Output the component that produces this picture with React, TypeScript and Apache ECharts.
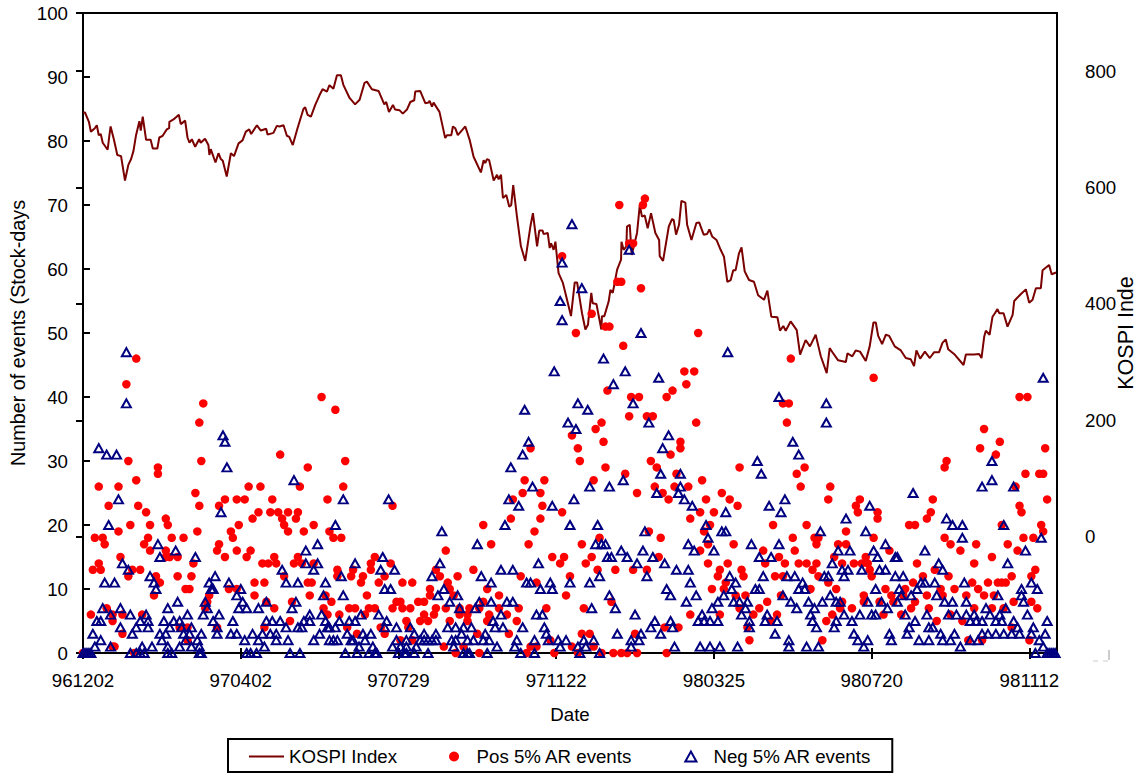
import React, { useEffect, useRef } from "react";
import * as echarts from "echarts";

const dateLabels = ["961202", "970402", "970729", "971122", "980325", "980720", "981112"];

const kospiDays = [0,1,3,4,6,7,8,9,10,12.5,13.4,14,15.7,17.4,19.3,21.3,23,24.4,25.6,26.9,28.6,29.3,30.3,32,34.3,35.4,37.7,38.7,40.4,42.5,43.7,43.8,45.9,48.6,49.6,51.8,53,54,55.2,56.9,58.9,59.7,61.9,63.6,64.1,64.8,67.2,68.7,69.9,70.9,72.9,75,76.6,78.9,80.9,82.6,84.3,85.3,88.2,90.2,92.9,93.6,96.6,98.3,99.7,101.7,103.4,104.6,106.4,108.8,111.8,112.7,113.9,115.6,117.8,120,121.5,123.7,125,127,128.8,130.8,132.1,135.2,138,140.3,142.8,144,146.5,149.9,152.8,153.8,155.2,157.2,158.3,160.5,162.2,164.3,166,168,168.5,171,173.6,175.3,175.8,177,177.8,180.8,183.7,184.6,186.8,187.6,188.8,190.1,193.9,196.1,198.1,201.8,203.2,204,204.9,206,208.3,210,210.8,212,213,214.7,216.2,217.2,218.2,220.1,222.1,224.3,226.9,228.2,230.3,231.4,233.1,233.6,235.7,236.7,237.4,238.7,239.6,241.2,243.4,245.5,247.5,249.4,250.6,253.1,254.8,256.1,257.8,258.5,260.4,262.9,263.2,264.4,266.6,267.5,268.7,270.9,272.9,273.1,274.2,275.6,275.9,277.3,278.3,281,282.4,283.5,284.9,286.4,288.1,290.3,292.2,292.5,294.2,297.1,298.8,299.6,300.8,302.3,303.5,305.5,306.4,308.6,311.1,312.5,314.8,316.5,317.7,319.1,321.3,323.4,325.1,326.8,328.5,329.8,331,332.7,334,335.6,337.8,340.3,342.4,345.4,347.1,349.1,352.2,353.5,355.2,356.4,358.9,362,363.7,366.5,368.7,371.6,373,374.2,377.2,378.7,380.1,383,386.9,387.7,390.2,391.9,394.1,397,399,400.9,402.1,403.3,405.3,407.2,408.9,411.7,414.8,417.3,419.8,421.5,422.7,424.6,427,429.5,431.7,434.2,435.9,437.6,438.8,441.8,446.6,447.8,452,454.5,455.7,457.1,457.9,459.8,461.3,462.5,463.8,464.7,466.9,468.9,471.5,472.3,475.7,478.2,479.9,481.6,483.3,485.8,486.7,490,491.3,493.5];
const kospiValues = [729,729,713,696,702,707,690,692,677,665,690,705,682,656,654,612,639,649,663,690,714,698,722,682,682,667,667,686,689,700,702,713,717,725,709,715,686,677,683,670,683,677,684,673,656,666,643,659,649,646,619,659,654,676,681,696,700,692,707,698,701,691,694,706,705,707,689,687,673,702,735,738,725,722,742,759,769,765,776,770,793,793,776,754,743,751,780,782,769,766,743,747,730,742,734,733,727,734,747,750,765,766,745,746,749,739,746,730,685,690,690,705,702,690,705,682,653,626,647,642,649,647,612,622,614,622,582,587,567,570,604,550,499,474,533,556,499,526,526,520,522,496,504,493,507,453,436,407,379,437,437,384,356,364,419,401,400,356,379,379,404,424,419,459,476,507,493,499,533,536,484,522,570,550,552,530,556,522,510,482,474,533,546,544,519,536,577,574,536,510,539,540,519,520,528,516,510,493,481,438,441,458,458,487,497,456,441,438,415,407,423,378,377,354,362,354,370,355,313,338,327,347,327,310,281,324,317,303,300,315,310,320,318,302,327,368,368,345,331,347,345,327,320,307,305,293,320,306,318,307,317,317,333,339,322,314,295,313,313,314,307,344,354,347,378,384,391,384,384,361,381,405,417,425,402,407,427,427,458,467,451,454];

const posRows: [number, number[]][] = [
  [71,[285]],[70,[272,284]],[64,[277,279]],[62,[243]],[58,[271,273]],[57,[283]],[53,[258]],[51,[265,267]],[50,[250,312]],[48,[274]],
  [46,[27,359]],[44,[305,310]],[43,[401]],[42,[22,306]],[41,[299,266]],[40,[121,296,278,282,475,479]],[39,[61,355,358]],[38,[128]],[37,[277,286,289]],[36,[59,357,311,263]],
  [35,[260,457]],[34,[248]],[33,[264,303,465]],[32,[227,251,303,455,488]],[31,[100,298,463]],[30,[23,60,133,252,288,438]],[29,[38,114,265,291,333,437,366]],[28,[38,275,301,362,478,485,487]],
  [27,[27,224,234,259,314]],[26,[8,18,84,90,110,132,290,300,307,379,364,473]],[25,[57,223,232,281,324,294]],[24,[72,78,82,96,124,218,297,316,328,378,394,431,489]],
  [23,[13,28,59,69,157,233,332,392,475]],[22,[32,89,95,99,104,109,243,313,320,393,430,403,476]],[21,[42,86,101,108,217,232,308,428,403]],[20,[24,34,43,79,102,117,203,350,318,419,422,466,486,367]],
  [19,[18,58,75,104,112,125,229,287,315,387,487]],[18,[6,10,33,45,51,76,127,131,262,293,360,401,437,477,482,371,373]],[17,[11,31,69,207,226,253,330,317,372,383,387,440,453,469]],
  [16,[34,42,68,78,85,184,313,345,361,445,474,409]],[15,[19,42,44,48,72,83,97,109,148,238,244,258,292,353,397,381,461]],[14,[8,56,91,94,98,107,111,117,146,156,242,255,317,327,346,356,363,367,372,385,391,395,398,423,452]],
  [13,[5,9,25,29,129,146,179,198,137,261,270,279,286,323,334,370,399,432,483]],[12,[23,37,48,55,102,129,136,142,153,181,190,222,247,322,335,351,355,373,400,426,439,471,481]],
  [11,[39,87,92,114,116,141,150,162,167,185,230,326,378,421,451,459,464,466,468]],[10,[52,54,74,78,176,186,205,319,325,369,382,407,417,435,442,454]],
  [9,[36,64,87,115,123,144,176,188,211,245,331,354,336,396,410,416,428,436,448,457,462]],[8,[63,93,106,126,159,161,170,173,203,268,347,385,396,404,411,422,472,481]],
  [7,[62,97,12,122,135,138,145,148,157,162,166,179,184,191,196,201,211,221,235,254,333,343,384,390,420,429,452,461,467,484]],[6,[4,15,20,30,124,130,143,173,178,191,195,206,215,308,323,352,340,380,406,415,440]],
  [5,[15,105,164,171,175,186,195,205,220,349,377,433,446]],[4,[49,53,92,68,165,151,134,295,302,337,471]],[3,[20,139,153,200,216,253,257,280]],[2,[53,161,167,237,338,375,449,456,480]],
  [1,[15,16,183,193,230,227,248,259]],[0,[0,26,189,201,225,239,263,269,273,276,281,296,251]],
];

const negRows: [number, number[]][] = [
  [67,[248]],[63,[277]],[61,[243]],[57,[253]],[55,[242]],[52,[243]],[50,[283]],[47,[22,327]],[46,[264]],[44,[239,275]],[43,[292,487]],[42,[269]],[40,[353]],[39,[22,251,279,377]],[38,[224,256]],
  [36,[246,287,377]],[35,[250]],[34,[71,297]],[33,[72,226,360]],[32,[8,294]],[31,[12,17,223,363]],[30,[342,461]],[29,[73,217]],[28,[293,303,344]],[27,[107,274,461]],[26,[228,257,267,303,456,472]],
  [25,[291,302,421]],[24,[18,132,155,216,249,305,356]],[23,[221,238,309,348,399]],[22,[70,326,354]],[21,[387,438]],[20,[13,128,214,247,261,316,441,446,467]],[19,[182,285,324,326,374,397]],[18,[317,446,486]],
  [17,[38,119,200,260,263,265,307,339,353,407]],[16,[47,113,273,284,320,310,427,383,389,401,478]],[15,[39,57,152,266,268,276,289,343,349,403,412,413]],[14,[20,113,119,138,181,231,281,295,380,434,469]],
  [13,[23,101,117,151,158,212,218,301,307,385,388,395,404,407,436]],[12,[34,67,131,177,202,262,286,328,345,357,361,376,378,386,412,416]],[11,[11,16,36,64,74,103,109,123,207,225,227,237,247,257,308,331,365,425,427,432,447,481]],
  [10,[37,65,66,80,153,156,183,232,238,296,341,343,329,363,366,402,414,423,476,484]],[9,[78,122,132,180,190,298,311,267,325,355,379,415,420,433,464,476]],
  [8,[62,81,93,108,48,186,201,207,215,218,306,322,330,333,337,359,368,375,382,384,398,405,413,437,441,448,477]],[7,[10,19,43,63,79,83,89,106,191,199,270,258,319,336,362,371,408,458,468]],
  [6,[14,32,53,61,69,24,115,121,141,150,212,230,233,280,334,314,347,369,386,394,400,402,417,428,439,443,448,452,460,465,479]],
  [5,[7,9,29,33,41,46,49,66,76,93,96,100,112,115,123,130,135,138,154,208,290,298,312,315,318,322,338,346,352,370,382,390,422,450,453,456,463,466,472,489]],
  [4,[19,27,33,44,50,55,68,103,109,111,124,125,128,153,159,166,185,189,193,197,209,213,223,234,288,299,338,372,381,419,431,474,482,429]],
  [3,[5,25,39,42,51,54,60,68,75,78,86,91,95,98,120,134,142,146,168,173,179,192,204,235,271,283,293,351,391,409,418,435,442,456,459,463,467,471,475,481,488]],
  [2,[9,40,52,58,82,89,98,104,117,125,127,129,136,137,143,159,164,171,173,175,177,179,187,189,195,198,203,206,220,229,236,241,245,254,259,278,282,358,393,398,410,424,429,436,440,450,454,485]],
  [1,[6,14,30,43,35,49,55,59,92,140,147,157,161,164,169,188,210,219,242,251,255,278,300,313,318,323,332,358,367,373,396,445,487]],
  [0,[0,1,2,3,4,24,27,29,31,43,45,59,60,83,85,88,105,110,133,139,145,148,149,160,163,164,168,175,193,195,196,205,222,229,252,262,483,489,490,491,492,493]],
];

const flatten = (rows: [number, number[]][]) =>
  rows.flatMap(([count, days]) => days.map((d) => [d, count]));

const FONT = "Liberation Sans";
const FS = 18.7;

export default function App() {
  const ref = useRef<HTMLDivElement>(null);
  useEffect(() => {
    document.body.style.margin = "0";
    const chart = echarts.init(ref.current!, null, { renderer: "svg" });
    const xBase = { type: "value", min: 0, max: 494, interval: 80, position: "bottom", splitLine: { show: false } };
    chart.setOption({
      animation: false,
      backgroundColor: "#fff",
      textStyle: { fontFamily: FONT, color: "#000" },
      grid: { left: 83, top: 13, width: 974, height: 640, show: true, borderColor: "#000", borderWidth: 2, backgroundColor: "transparent", containLabel: false, outerBoundsMode: "none" },
      legend: {
        left: 228, top: 739, padding: [8, 21, 6, 21], itemGap: 52, itemWidth: 35, itemHeight: 10,
        borderColor: "#000", borderWidth: 2,
        textStyle: { fontFamily: FONT, fontSize: FS, color: "#000" },
        data: [
          { name: "KOSPI Index", icon: "path://M0,0 H35 V2 H0 Z" },
          { name: "Pos 5% AR events", icon: "circle" },
          { name: "Neg 5% AR events", icon: "path://M5,0 L10,9 L0,9 Z" },
        ],
      },
      xAxis: [
        {
          ...xBase, name: "Date", nameLocation: "middle", nameGap: 52,
          nameTextStyle: { fontFamily: FONT, fontSize: FS, color: "#000" },
          axisLine: { onZero: false, lineStyle: { color: "#000", width: 2 } },
          axisTick: { show: true, length: 6, lineStyle: { color: "#000", width: 2 }, inside: false },
          axisLabel: { margin: 18, fontFamily: FONT, fontSize: FS, color: "#000", showMaxLabel: false,
            formatter: (v: number) => (v % 80 === 0 ? dateLabels[v / 80] ?? "" : "") },
        },
        {
          ...xBase,
          axisLine: { show: false },
          axisTick: { show: true, inside: true, length: 5, lineStyle: { color: "#000", width: 2 } },
          axisLabel: { show: false },
        },
      ],
      yAxis: [
        {
          type: "value", min: 0, max: 100, interval: 10, position: "left",
          name: "Number of events (Stock-days", nameLocation: "middle", nameGap: 55, nameRotate: 90, nameMoveOverlap: false,
          nameTextStyle: { fontFamily: FONT, fontSize: 19.8, color: "#000" },
          splitLine: { show: false },
          axisLine: { show: true, lineStyle: { color: "#000", width: 2 } },
          axisTick: { show: true, inside: true, length: 7, lineStyle: { color: "#000", width: 2 } },
          axisLabel: { margin: 15, fontFamily: FONT, fontSize: FS, color: "#000" },
        },
        {
          type: "value", min: -200, max: 900, interval: 200, position: "right",
          name: "KOSPI Inde", nameLocation: "middle", nameGap: 58, nameRotate: 90, nameMoveOverlap: false,
          nameTextStyle: { fontFamily: FONT, fontSize: 21.5, color: "#000" },
          splitLine: { show: false },
          axisLine: { show: true, lineStyle: { color: "#000", width: 2 } },
          axisTick: { show: true, inside: true, length: 7, lineStyle: { color: "#000", width: 2 } },
          axisLabel: { margin: 28, fontFamily: FONT, fontSize: FS, color: "#000",
            formatter: (v: number) => (v < 0 || v > 800 ? "" : String(v)) },
        },
      ],
      series: [
        {
          name: "KOSPI Index", type: "line", yAxisIndex: 1, xAxisIndex: 0, showSymbol: false, symbol: "none",
          lineStyle: { color: "#7b0000", width: 2 }, itemStyle: { color: "#7b0000" },
          data: kospiDays.map((d, i) => [d, kospiValues[i]]), z: 2,
        },
        {
          name: "Pos 5% AR events", type: "scatter", yAxisIndex: 0, xAxisIndex: 0, symbol: "circle", symbolSize: 8.5, clip: false,
          itemStyle: { color: "#ff0000", opacity: 1 }, data: flatten(posRows), z: 3,
        },
        {
          name: "Neg 5% AR events", type: "scatter", yAxisIndex: 0, xAxisIndex: 0, symbol: "triangle", symbolSize: [9, 8], clip: false,
          itemStyle: { color: "transparent", borderColor: "#000080", borderWidth: 2, opacity: 1 }, data: flatten(negRows), z: 4,
        },
      ],
      graphic: [
        { type: "line", shape: { x1: 1109, y1: 650, x2: 1109, y2: 660 }, style: { stroke: "#999", lineWidth: 1 } },
        { type: "line", shape: { x1: 1093, y1: 661, x2: 1098, y2: 661 }, style: { stroke: "#ccc", lineWidth: 1 } },
        { type: "line", shape: { x1: 1103, y1: 661, x2: 1108, y2: 661 }, style: { stroke: "#ccc", lineWidth: 1 } },
      ],
    });
    return () => chart.dispose();
  }, []);
  return <div ref={ref} style={{ position: "fixed", left: 0, top: 0, width: 1139, height: 773 }} />;
}
